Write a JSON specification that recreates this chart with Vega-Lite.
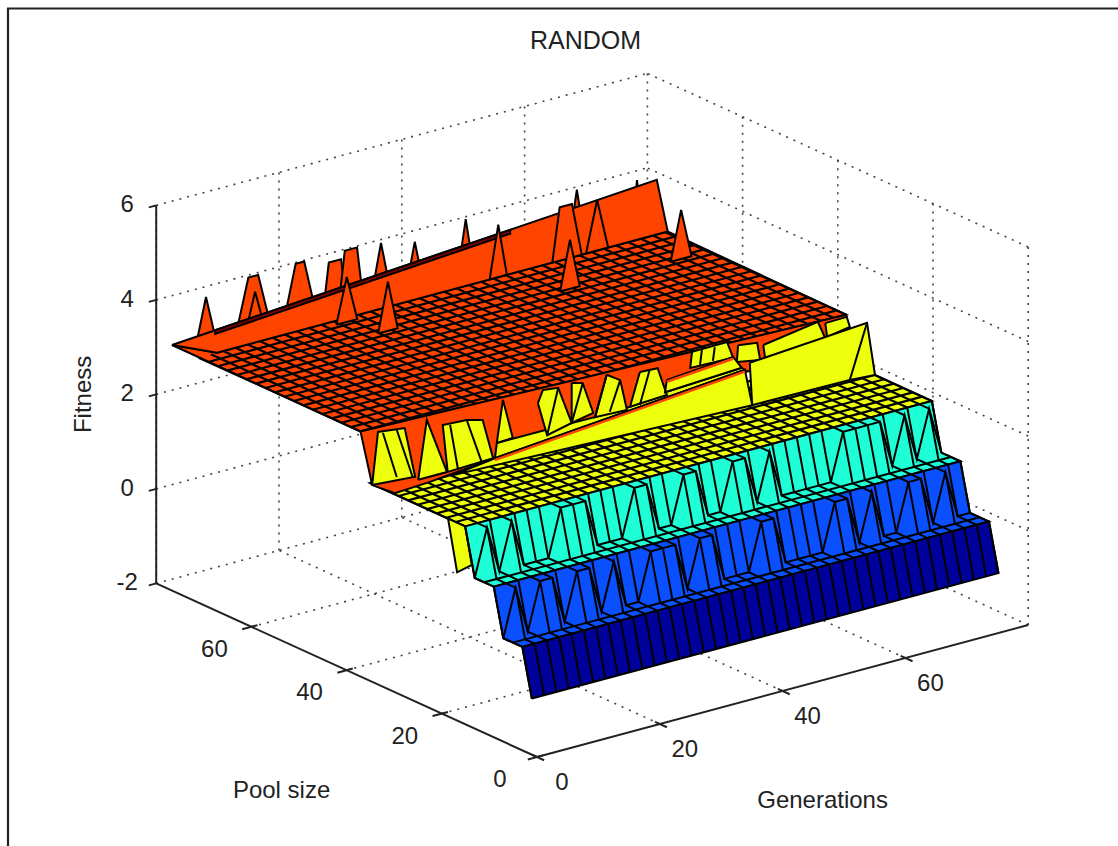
{"$schema":"https://vega.github.io/schema/vega-lite/v6.json","width":1111,"height":838,"padding":{"left":7,"top":8,"right":0,"bottom":0},"autosize":"none","background":"white","config":{"view":{"stroke":null},"text":{"font":"Liberation Sans","fontSize":24,"fill":"#222"}},"title":{"text":"RANDOM","font":"Liberation Sans","fontSize":25,"fontWeight":"normal","color":"#222","dx":23,"offset":-47},
"datasets":{
"frame":[{"sx":8,"sy":8,"ex":8,"ey":846},{"sx":7,"sy":8.5,"ex":1118,"ey":8.5}],
"risers":[{"r":"d","pb":1.6,"pm":2.6,"pt":3.6,"pn":5.6,"zb":-0.85,"zt":0.15},{"r":"b","pb":5.6,"pm":7.6,"pt":9.6,"pn":11.6,"zb":0.15,"zt":1.15},{"r":"c","pb":11.6,"pm":13.6,"pt":15.6,"pn":35.6,"zb":1.15,"zt":2.15}],
"cols":[
{"r":"d","g":0.4,"m":0.5},{"r":"d","g":2.4,"m":0.5},{"r":"d","g":4.4,"m":0.5},{"r":"d","g":6.4,"m":0.5},{"r":"d","g":8.4,"m":0.5},{"r":"d","g":10.4,"m":0.5},{"r":"d","g":12.4,"m":0.5},{"r":"d","g":14.4,"m":0.5},{"r":"d","g":16.4,"m":0.5},{"r":"d","g":18.4,"m":0.5},{"r":"d","g":20.4,"m":0.5},{"r":"d","g":22.4,"m":0.5},{"r":"d","g":24.4,"m":0.5},{"r":"d","g":26.4,"m":0.5},{"r":"d","g":28.4,"m":0.5},{"r":"d","g":30.4,"m":0.5},{"r":"d","g":32.4,"m":0.5},{"r":"d","g":34.4,"m":0.5},{"r":"d","g":36.4,"m":0.5},{"r":"d","g":38.4,"m":0.5},{"r":"d","g":40.4,"m":0.5},{"r":"d","g":42.4,"m":0.5},{"r":"d","g":44.4,"m":0.5},{"r":"d","g":46.4,"m":0.5},{"r":"d","g":48.4,"m":0.5},{"r":"d","g":50.4,"m":0.5},{"r":"d","g":52.4,"m":0.5},{"r":"d","g":54.4,"m":0.5},{"r":"d","g":56.4,"m":0.5},{"r":"d","g":58.4,"m":0.5},{"r":"d","g":60.4,"m":0.5},{"r":"d","g":62.4,"m":0.5},{"r":"d","g":64.4,"m":0.5},{"r":"d","g":66.4,"m":0.5},{"r":"d","g":68.4,"m":0.5},{"r":"d","g":70.4,"m":0.5},{"r":"d","g":72.4,"m":0.5},{"r":"d","g":74.4,"m":0.5},{"r":"d","g":76.4,"m":0.5},
{"r":"b","g":0.4,"m":0},{"r":"b","g":2.4,"m":1},{"r":"b","g":4.4,"m":0},{"r":"b","g":6.4,"m":1},{"r":"b","g":8.4,"m":1},{"r":"b","g":10.4,"m":0},{"r":"b","g":12.4,"m":1},{"r":"b","g":14.4,"m":1},{"r":"b","g":16.4,"m":0},{"r":"b","g":18.4,"m":1},{"r":"b","g":20.4,"m":0},{"r":"b","g":22.4,"m":0},{"r":"b","g":24.4,"m":1},{"r":"b","g":26.4,"m":1},{"r":"b","g":28.4,"m":1},{"r":"b","g":30.4,"m":0},{"r":"b","g":32.4,"m":1},{"r":"b","g":34.4,"m":1},{"r":"b","g":36.4,"m":0},{"r":"b","g":38.4,"m":0},{"r":"b","g":40.4,"m":0},{"r":"b","g":42.4,"m":1},{"r":"b","g":44.4,"m":1},{"r":"b","g":46.4,"m":0},{"r":"b","g":48.4,"m":0},{"r":"b","g":50.4,"m":0},{"r":"b","g":52.4,"m":0},{"r":"b","g":54.4,"m":1},{"r":"b","g":56.4,"m":1},{"r":"b","g":58.4,"m":0},{"r":"b","g":60.4,"m":1},{"r":"b","g":62.4,"m":0},{"r":"b","g":64.4,"m":0},{"r":"b","g":66.4,"m":1},{"r":"b","g":68.4,"m":1},{"r":"b","g":70.4,"m":0},{"r":"b","g":72.4,"m":1},{"r":"b","g":74.4,"m":0},{"r":"b","g":76.4,"m":0},
{"r":"c","g":0.4,"m":0},{"r":"c","g":2.4,"m":1},{"r":"c","g":4.4,"m":0},{"r":"c","g":6.4,"m":1},{"r":"c","g":8.4,"m":0},{"r":"c","g":10.4,"m":0},{"r":"c","g":12.4,"m":0},{"r":"c","g":14.4,"m":1},{"r":"c","g":16.4,"m":1},{"r":"c","g":18.4,"m":1},{"r":"c","g":20.4,"m":0},{"r":"c","g":22.4,"m":0},{"r":"c","g":24.4,"m":0},{"r":"c","g":26.4,"m":1},{"r":"c","g":28.4,"m":1},{"r":"c","g":30.4,"m":0},{"r":"c","g":32.4,"m":0},{"r":"c","g":34.4,"m":1},{"r":"c","g":36.4,"m":1},{"r":"c","g":38.4,"m":0},{"r":"c","g":40.4,"m":0},{"r":"c","g":42.4,"m":1},{"r":"c","g":44.4,"m":1},{"r":"c","g":46.4,"m":0},{"r":"c","g":48.4,"m":1},{"r":"c","g":50.4,"m":0},{"r":"c","g":52.4,"m":0},{"r":"c","g":54.4,"m":0},{"r":"c","g":56.4,"m":0},{"r":"c","g":58.4,"m":0},{"r":"c","g":60.4,"m":1},{"r":"c","g":62.4,"m":1},{"r":"c","g":64.4,"m":1},{"r":"c","g":66.4,"m":1},{"r":"c","g":68.4,"m":0},{"r":"c","g":70.4,"m":1},{"r":"c","g":72.4,"m":0},{"r":"c","g":74.4,"m":1},{"r":"c","g":76.4,"m":0}],
"redcols":[{"g":0.4,"f":37.6},{"g":2.4,"f":37.5},{"g":4.4,"f":37.4},{"g":6.4,"f":37.3},{"g":8.4,"f":37.2},{"g":10.4,"f":37.1},{"g":12.4,"f":37},{"g":14.4,"f":36.9},{"g":16.4,"f":36.8},{"g":18.4,"f":36.7},{"g":20.4,"f":36.5},{"g":22.4,"f":36.4},{"g":24.4,"f":36.3},{"g":26.4,"f":36.2},{"g":28.4,"f":36.1},{"g":30.4,"f":36},{"g":32.4,"f":35.9},{"g":34.4,"f":35.8},{"g":36.4,"f":35.7},{"g":38.4,"f":35.6},{"g":40.4,"f":35.5},{"g":42.4,"f":35.4},{"g":44.4,"f":35.3},{"g":46.4,"f":35.2},{"g":48.4,"f":35.1},{"g":50.4,"f":35},{"g":52.4,"f":34.9},{"g":54.4,"f":34.8},{"g":56.4,"f":34.7},{"g":58.4,"f":34.5},{"g":60.4,"f":34.4},{"g":62.4,"f":34.3},{"g":64.4,"f":34.2},{"g":66.4,"f":34.1},{"g":68.4,"f":34},{"g":70.4,"f":33.9},{"g":72.4,"f":33.8},{"g":74.4,"f":33.7},{"g":76.4,"f":33.6}],
"seg":[
{"l":"dot","g":0,"p":80,"z":-2,"h":0,"q":80,"y":6},{"l":"dot","g":20,"p":80,"z":-2,"h":20,"q":80,"y":6},{"l":"dot","g":40,"p":80,"z":-2,"h":40,"q":80,"y":6},{"l":"dot","g":60,"p":80,"z":-2,"h":60,"q":80,"y":6},{"l":"dot","g":80,"p":80,"z":-2,"h":80,"q":80,"y":6},
{"l":"dot","g":0,"p":80,"z":-2,"h":80,"q":80,"y":-2},{"l":"dot","g":0,"p":80,"z":0,"h":80,"q":80,"y":0},{"l":"dot","g":0,"p":80,"z":2,"h":80,"q":80,"y":2},{"l":"dot","g":0,"p":80,"z":4,"h":80,"q":80,"y":4},{"l":"dot","g":0,"p":80,"z":6,"h":80,"q":80,"y":6},
{"l":"dot","g":80,"p":0,"z":-2,"h":80,"q":0,"y":6},{"l":"dot","g":80,"p":20,"z":-2,"h":80,"q":20,"y":6},{"l":"dot","g":80,"p":40,"z":-2,"h":80,"q":40,"y":6},{"l":"dot","g":80,"p":60,"z":-2,"h":80,"q":60,"y":6},
{"l":"dot","g":80,"p":0,"z":-2,"h":80,"q":80,"y":-2},{"l":"dot","g":80,"p":0,"z":0,"h":80,"q":80,"y":0},{"l":"dot","g":80,"p":0,"z":2,"h":80,"q":80,"y":2},{"l":"dot","g":80,"p":0,"z":4,"h":80,"q":80,"y":4},{"l":"dot","g":80,"p":0,"z":6,"h":80,"q":80,"y":6},
{"l":"dot","g":20,"p":0,"z":-2,"h":20,"q":80,"y":-2},{"l":"dot","g":40,"p":0,"z":-2,"h":40,"q":80,"y":-2},{"l":"dot","g":60,"p":0,"z":-2,"h":60,"q":80,"y":-2},{"l":"dot","g":0,"p":20,"z":-2,"h":80,"q":20,"y":-2},{"l":"dot","g":0,"p":40,"z":-2,"h":80,"q":40,"y":-2},{"l":"dot","g":0,"p":60,"z":-2,"h":80,"q":60,"y":-2},
{"l":"ax","g":0,"p":0,"z":-2,"h":80,"q":0,"y":-2},{"l":"ax","g":0,"p":0,"z":-2,"h":0,"q":80,"y":-2},{"l":"ax","g":0,"p":80,"z":-2,"h":0,"q":80,"y":6},
{"l":"ax","g":0,"p":-1.5,"z":-2,"h":0,"q":1,"y":-2},{"l":"ax","g":20,"p":-1.5,"z":-2,"h":20,"q":1,"y":-2},{"l":"ax","g":40,"p":-1.5,"z":-2,"h":40,"q":1,"y":-2},{"l":"ax","g":60,"p":-1.5,"z":-2,"h":60,"q":1,"y":-2},
{"l":"ax","g":-1.5,"p":0,"z":-2,"h":1,"q":0,"y":-2},{"l":"ax","g":-1.5,"p":20,"z":-2,"h":1,"q":20,"y":-2},{"l":"ax","g":-1.5,"p":40,"z":-2,"h":1,"q":40,"y":-2},{"l":"ax","g":-1.5,"p":60,"z":-2,"h":1,"q":60,"y":-2},
{"l":"ax","g":-1.2,"p":80,"z":-2,"h":0,"q":80,"y":-2},{"l":"ax","g":-1.2,"p":80,"z":0,"h":0,"q":80,"y":0},{"l":"ax","g":-1.2,"p":80,"z":2,"h":0,"q":80,"y":2},{"l":"ax","g":-1.2,"p":80,"z":4,"h":0,"q":80,"y":4},{"l":"ax","g":-1.2,"p":80,"z":6,"h":0,"q":80,"y":6},
{"l":"red","g":38,"p":35.6,"z":3.15,"h":76.4,"q":35.6,"y":3.15},{"l":"red","g":0.4,"p":37.6,"z":3.15,"h":76.4,"q":37.6,"y":3.15},{"l":"red","g":0.4,"p":39.6,"z":3.15,"h":76.4,"q":39.6,"y":3.15},{"l":"red","g":0.4,"p":41.6,"z":3.15,"h":76.4,"q":41.6,"y":3.15},{"l":"red","g":0.4,"p":43.6,"z":3.15,"h":76.4,"q":43.6,"y":3.15},{"l":"red","g":0.4,"p":45.6,"z":3.15,"h":76.4,"q":45.6,"y":3.15},{"l":"red","g":0.4,"p":47.6,"z":3.15,"h":76.4,"q":47.6,"y":3.15},{"l":"red","g":0.4,"p":49.6,"z":3.15,"h":76.4,"q":49.6,"y":3.15},{"l":"red","g":0.4,"p":51.6,"z":3.15,"h":76.4,"q":51.6,"y":3.15},{"l":"red","g":0.4,"p":53.6,"z":3.15,"h":76.4,"q":53.6,"y":3.15},{"l":"red","g":0.4,"p":55.6,"z":3.15,"h":76.4,"q":55.6,"y":3.15},{"l":"red","g":0.4,"p":57.6,"z":3.15,"h":76.4,"q":57.6,"y":3.15},{"l":"red","g":0.4,"p":59.6,"z":3.15,"h":76.4,"q":59.6,"y":3.15},{"l":"red","g":0.4,"p":61.6,"z":3.15,"h":76.4,"q":61.6,"y":3.15},{"l":"red","g":0.4,"p":63.6,"z":3.15,"h":76.4,"q":63.6,"y":3.15},{"l":"red","g":0.4,"p":65.6,"z":3.15,"h":76.4,"q":65.6,"y":3.15},{"l":"red","g":0.4,"p":67.6,"z":3.15,"h":76.4,"q":67.6,"y":3.15},{"l":"red","g":0.4,"p":69.6,"z":3.15,"h":76.4,"q":69.6,"y":3.15},
{"l":"yel","g":0.4,"p":17.6,"z":2.15,"h":76.4,"q":17.6,"y":2.15},{"l":"yel","g":0.4,"p":19.6,"z":2.15,"h":76.4,"q":19.6,"y":2.15},{"l":"yel","g":0.4,"p":21.6,"z":2.15,"h":76.4,"q":21.6,"y":2.15},{"l":"yel","g":0.4,"p":23.6,"z":2.15,"h":76.4,"q":23.6,"y":2.15},{"l":"yel","g":0.4,"p":25.6,"z":2.15,"h":76.4,"q":25.6,"y":2.15},{"l":"yel","g":0.4,"p":27.6,"z":2.15,"h":76.4,"q":27.6,"y":2.15},{"l":"yel","g":0.4,"p":29.6,"z":2.15,"h":76.4,"q":29.6,"y":2.15},{"l":"yel","g":0.4,"p":31.6,"z":2.15,"h":76.4,"q":31.6,"y":2.15},{"l":"yel","g":0.4,"p":33.6,"z":2.15,"h":76.4,"q":33.6,"y":2.15},
{"l":"stp","g":0.4,"p":5.6,"z":0.15,"h":76.4,"q":5.6,"y":0.15},{"l":"stp","g":0.4,"p":11.6,"z":1.15,"h":76.4,"q":11.6,"y":1.15},
{"l":"in","g":0.96,"p":33.6,"z":3.28,"h":3.2,"q":33.6,"y":2.27},{"l":"in","g":3.2,"p":33.6,"z":3.27,"h":5.8,"q":33.6,"y":2.18},{"l":"in","g":11.9,"p":33.6,"z":3.07,"h":13.2,"q":33.6,"y":2.07},{"l":"in","g":14.6,"p":33.6,"z":3.08,"h":17.1,"q":33.6,"y":2.08},{"l":"in","g":29.5,"p":33.6,"z":3.24,"h":27.7,"q":33.6,"y":2.3},{"l":"in","g":33.5,"p":33.6,"z":3.2,"h":31.7,"q":33.6,"y":2.42},{"l":"in","g":37.4,"p":33.6,"z":3.24,"h":35.5,"q":33.6,"y":2.41},{"l":"in","g":39.6,"p":33.6,"z":3.05,"h":37.9,"q":33.6,"y":2.44},{"l":"in","g":44.4,"p":33.6,"z":3.1,"h":42.8,"q":33.6,"y":2.41},{"l":"in","g":52.9,"p":33.6,"z":3.22,"h":52.6,"q":33.6,"y":2.92},{"l":"in","g":55,"p":33.6,"z":3.21,"h":54.7,"q":33.6,"y":2.93},{"l":"in","g":79.8,"p":33.6,"z":2.86,"h":77,"q":33.6,"y":1.75},
{"l":"acc","g":19.2,"p":33.6,"z":2.07,"h":59.9,"q":33.6,"y":2.52},{"l":"acc","g":47.2,"p":33.6,"z":2.75,"h":58,"q":33.6,"y":2.86}],
"polys":[
{"l":1,"id":"a01","c":"r","g":[3.1,4.7,6.3,3.1],"p":[75.6,75.6,75.6,75.6],"z":[3.15,4.1,3.15,3.15]},
{"l":1,"id":"a02","c":"r","g":[9.6,11.6,13.2,15.2,9.6],"p":[75.6,75.6,75.6,75.6,75.6],"z":[3.15,4.27,4.27,3.15,3.15]},
{"l":1,"id":"a03","c":"r","g":[11.2,12.7,14.2,11.2],"p":[75.6,75.6,75.6,75.6],"z":[3.15,3.93,3.15,3.15]},
{"l":1,"id":"a04","c":"r","g":[17.4,19.3,20.7,22.6,17.4],"p":[75.6,75.6,75.6,75.6,75.6],"z":[3.15,4.29,4.29,3.15,3.15]},
{"l":1,"id":"a05","c":"r","g":[23.8,24.7,26.7,27.6,23.8],"p":[75.6,75.6,75.6,75.6,75.6],"z":[3.15,4.13,4.13,3.15,3.15]},
{"l":1,"id":"a06","c":"r","g":[26.3,27.3,29.3,30.3,26.3],"p":[75.6,75.6,75.6,75.6,75.6],"z":[3.15,4.29,4.29,3.15,3.15]},
{"l":1,"id":"a07","c":"r","g":[31.6,33.2,34.8,31.6],"p":[75.6,75.6,75.6,75.6],"z":[3.15,4.25,3.15,3.15]},
{"l":1,"id":"a08","c":"r","g":[37.3,38.7,40.1,37.3],"p":[75.6,75.6,75.6,75.6],"z":[3.15,4.08,3.15,3.15]},
{"l":1,"id":"a09","c":"r","g":[45.7,47,48.3,45.7],"p":[75.6,75.6,75.6,75.6],"z":[3.15,4.27,3.15,3.15]},
{"l":1,"id":"a10","c":"r","g":[63.8,65.1,66.4,63.8],"p":[75.6,75.6,75.6,75.6],"z":[3.15,4.26,3.15,3.15]},
{"l":1,"id":"a11","c":"r","g":[74.1,74.9,75.7,74.1],"p":[75.6,75.6,75.6,75.6],"z":[3.15,4.12,3.15,3.15]},
{"l":1,"id":"a12","c":"r","g":[0.4,0.4,3.4,76.8,76.4,0.4],"p":[37.6,77.2,71.6,71.6,33.6,37.6],"z":[3.15,3.16,3.15,3.15,3.15,3.15]},
{"l":1,"id":"a13","c":"r","g":[0.4,76.8,76.8,3.4,0.4],"p":[77.2,73.9,71.6,71.6,77.2],"z":[3.16,4.14,3.15,3.15,3.16]},
{"l":1,"id":"a14","c":"k","g":[7.2,53.7,53.7,7.2,7.2],"p":[76.9,74.9,74.9,76.9,76.9],"z":[3.25,3.84,3.76,3.17,3.25]},
{"l":1,"id":"a15","c":"r","g":[47.8,49.2,50.6,47.8],"p":[71.6,71.6,71.6,71.6],"z":[3.15,4.26,3.15,3.15]},
{"l":1,"id":"a16","c":"r","g":[58,59.2,61.2,62.8,58],"p":[71.6,71.6,71.6,71.6,71.6],"z":[3.15,4.28,4.28,3.15,3.15]},
{"l":1,"id":"a17","c":"r","g":[63.5,65.3,67.1,63.5],"p":[71.6,71.6,71.6,71.6],"z":[3.15,4.22,3.15,3.15]},
{"l":2,"id":"b01","c":"r","g":[21.9,23.6,25.3,21.9],"p":[70.4,70.4,70.4,70.4],"z":[3.15,4.1,3.15,3.15]},
{"l":2,"id":"b02","c":"r","g":[24.2,25.8,27.4,24.2],"p":[64.6,64.6,64.6,64.6],"z":[3.15,4.19,3.15,3.15]},
{"l":2,"id":"b03","c":"r","g":[52.3,53.9,55.5,52.3],"p":[62.6,62.6,62.6,62.6],"z":[3.15,4.19,3.15,3.15]},
{"l":2,"id":"b04","c":"r","g":[70.3,72,73.7,70.3],"p":[62.6,62.6,62.6,62.6],"z":[3.15,4.19,3.15,3.15]},
{"l":2,"id":"b05","c":"y","g":[0.4,0.4,76.4,76.4,0.4],"p":[15.6,35.6,35.6,15.6,15.6],"z":[2.15,2.15,2.15,2.15,2.15]},
{"l":3,"id":"c00","c":"r","g":[0.4,76.4,77,59.4,46.9,19.2,8.6,2.9,-0.8,0.4],"p":[37.6,33.6,33.6,33.6,33.6,33.6,33.6,33.6,33.6,37.6],"z":[3.15,3.15,2.7,2.5,2.42,2.11,1.98,1.94,2.24,3.15]},
{"l":3,"id":"c01","c":"y","g":[19.2,19.5,31.7,35.5,41.2,46.9,59.4,59.9,19.2],"p":[33.6,33.6,33.6,33.6,33.6,33.6,33.6,33.6,33.6],"z":[2.11,2.42,2.42,2.41,2.43,2.54,2.62,2.56,2.11]},
{"l":3,"id":"c02","c":"y","g":[-0.8,0.15,4.5,6.2,-0.8],"p":[33.6,33.6,33.6,33.6,33.6],"z":[2.24,3.33,3.26,2.17,2.24]},
{"l":3,"id":"c03","c":"y","g":[6.7,8.1,11.4,6.7],"p":[33.6,33.6,33.6,33.6],"z":[2.09,3.31,2.09,2.09]},
{"l":3,"id":"c04","c":"y","g":[11.5,10.7,14.6,17.2,18.9,11.5],"p":[33.6,33.6,33.6,33.6,33.6,33.6],"z":[2.09,3.11,3.08,2.99,2.12,2.09]},
{"l":3,"id":"c05","c":"y","g":[19.5,20.5,22.1,19.5],"p":[33.6,33.6,33.6,33.6],"z":[2.42,3.3,2.44,2.42]},
{"l":3,"id":"c06","c":"y","g":[26.2,27,29.5,31.7,27.7,26.2],"p":[33.6,33.6,33.6,33.6,33.6,33.6],"z":[3.03,3.28,3.24,2.42,2.3,3.03]},
{"l":3,"id":"c07","c":"y","g":[31.7,33.5,35.2,31.7,31.7],"p":[33.6,33.6,33.6,33.6,33.6],"z":[3.27,3.2,2.51,2.42,3.27]},
{"l":3,"id":"c08","c":"y","g":[37.4,39.6,40.7,35.5,37.4],"p":[33.6,33.6,33.6,33.6,33.6],"z":[3.24,3.05,2.38,2.41,3.24]},
{"l":3,"id":"c09","c":"y","g":[42.8,45.7,47.2,41.2,42.8],"p":[33.6,33.6,33.6,33.6,33.6],"z":[3.11,3.09,2.47,2.43,3.11]},
{"l":3,"id":"c10","c":"y","g":[51.3,57,58,51,51.3],"p":[33.6,33.6,33.6,33.6,33.6],"z":[3.24,3.25,2.88,2.91,3.24]},
{"l":3,"id":"c11","c":"y","g":[58.8,61.9,62.4,58.6,58.8],"p":[33.6,33.6,33.6,33.6,33.6],"z":[3.12,3.06,2.68,2.77,3.12]},
{"l":3,"id":"c12","c":"y","g":[62.9,71.8,73,63.2,62.9],"p":[33.6,33.6,33.6,33.6,33.6],"z":[2.98,3.16,2.77,2.69,2.98]},
{"l":3,"id":"c13","c":"y","g":[73,76.5,77,73.3,73],"p":[33.6,33.6,33.6,33.6,33.6],"z":[3.09,3.1,2.87,2.79,3.09]},
{"l":3,"id":"c14","c":"y","g":[47.2,58,59.4,46.9,47.2],"p":[33.6,33.6,33.6,33.6,33.6],"z":[2.79,2.9,2.62,2.54,2.79]},
{"l":3,"id":"c15","c":"y","g":[19.2,59.9,61.1,12.4,19.2],"p":[33.6,33.6,33.6,33.6,33.6],"z":[2.11,2.56,1.77,1.99,2.11]},
{"l":3,"id":"c16","c":"y","g":[60.7,79.8,81.1,77,61.1,60.7],"p":[33.6,33.6,33.6,33.6,33.6,33.6],"z":[2.68,2.86,1.71,1.75,1.77,2.68]},
{"l":3,"id":"c17","c":"y","g":[0.4,0.4,0.4,0.4,0.4],"p":[19.2,15.6,14.2,17.3,19.2],"z":[2.15,2.15,1.4,1.1,2.15]},
{"l":3,"id":"c18","c":"c","g":[0.4,0.4,0.4,76.4,76.4,76.4,0.4],"p":[9.6,13.6,15.6,15.6,13.6,9.6,9.6],"z":[1.15,1.15,2.15,2.15,1.15,1.15,1.15]},
{"l":3,"id":"c19","c":"b","g":[0.4,0.4,0.4,76.4,76.4,76.4,0.4],"p":[3.6,7.6,9.6,9.6,7.6,3.6,3.6],"z":[0.15,0.15,1.15,1.15,0.15,0.15,0.15]},
{"l":3,"id":"c20","c":"d","g":[0.4,0.4,76.4,76.4,0.4],"p":[1.6,3.6,3.6,1.6,1.6],"z":[-0.85,0.15,0.15,-0.85,-0.85]}],
"labels":[{"a":"g","t":"0","g":0,"p":0,"z":-2},{"a":"g","t":"20","g":20,"p":0,"z":-2},{"a":"g","t":"40","g":40,"p":0,"z":-2},{"a":"g","t":"60","g":60,"p":0,"z":-2},{"a":"p","t":"0","g":0,"p":0,"z":-2},{"a":"p","t":"20","g":0,"p":20,"z":-2},{"a":"p","t":"40","g":0,"p":40,"z":-2},{"a":"p","t":"60","g":0,"p":60,"z":-2},{"a":"z","t":"-2","g":0,"p":80,"z":-2},{"a":"z","t":"0","g":0,"p":80,"z":0},{"a":"z","t":"2","g":0,"p":80,"z":2},{"a":"z","t":"4","g":0,"p":80,"z":4},{"a":"z","t":"6","g":0,"p":80,"z":6},{"a":"G","t":"Generations","g":40,"p":0,"z":-2},{"a":"P","t":"Pool size","g":0,"p":40,"z":-2},{"a":"F","t":"Fitness","g":0,"p":80,"z":2}]},
"encoding":{"x":{"field":"sx","type":"quantitative","scale":{"domain":[7,1118]},"axis":null},"y":{"field":"sy","type":"quantitative","scale":{"domain":[846,8]},"axis":null}},
"layer":[
{"data":{"name":"frame"},"mark":{"type":"rule","stroke":"#222","strokeWidth":2.2},"encoding":{"x2":{"field":"ex"},"y2":{"field":"ey"}}},
{"data":{"name":"seg"},"transform":[{"filter":"datum.l=='dot'"},{"calculate":"537+6.14*datum.g-4.76*datum.p","as":"sx"},{"calculate":"757-1.65*datum.g-2.17*datum.p-47.25*(datum.z+2)","as":"sy"},{"calculate":"537+6.14*datum.h-4.76*datum.q","as":"ex"},{"calculate":"757-1.65*datum.h-2.17*datum.q-47.25*(datum.y+2)","as":"ey"}],"mark":{"type":"rule","stroke":"#444","strokeWidth":1.6,"strokeDash":[2,6]},"encoding":{"x2":{"field":"ex"},"y2":{"field":"ey"}}},
{"data":{"name":"seg"},"transform":[{"filter":"datum.l=='ax'"},{"calculate":"537+6.14*datum.g-4.76*datum.p","as":"sx"},{"calculate":"757-1.65*datum.g-2.17*datum.p-47.25*(datum.z+2)","as":"sy"},{"calculate":"537+6.14*datum.h-4.76*datum.q","as":"ex"},{"calculate":"757-1.65*datum.h-2.17*datum.q-47.25*(datum.y+2)","as":"ey"}],"mark":{"type":"rule","stroke":"#222","strokeWidth":2},"encoding":{"x2":{"field":"ex"},"y2":{"field":"ey"}}},
{"data":{"name":"polys"},"transform":[{"filter":"datum.l==1"},{"flatten":["g","p","z"]},{"calculate":"537+6.14*datum.g-4.76*datum.p","as":"sx"},{"calculate":"757-1.65*datum.g-2.17*datum.p-47.25*(datum.z+2)","as":"sy"}],"mark":{"type":"line","filled":true,"stroke":"black","strokeWidth":2},"encoding":{"fill":{"field":"c","type":"nominal","scale":{"domain":["r","y","c","b","d","k"],"range":["#ff4400","#eeff0c","#1effd8","#0a50ff","#00009a","#800000"]},"legend":null},"detail":{"field":"id"},"order":{"value":null}}},
{"data":{"name":"seg"},"transform":[{"filter":"datum.l=='red'"},{"calculate":"537+6.14*datum.g-4.76*datum.p","as":"sx"},{"calculate":"757-1.65*datum.g-2.17*datum.p-47.25*(datum.z+2)","as":"sy"},{"calculate":"537+6.14*datum.h-4.76*datum.q","as":"ex"},{"calculate":"757-1.65*datum.h-2.17*datum.q-47.25*(datum.y+2)","as":"ey"}],"mark":{"type":"rule","stroke":"black","strokeWidth":2.2},"encoding":{"x2":{"field":"ex"},"y2":{"field":"ey"}}},
{"data":{"name":"redcols"},"transform":[{"calculate":"537+6.14*datum.g-4.76*datum.f","as":"sx"},{"calculate":"757-1.65*datum.g-2.17*datum.f-47.25*5.15","as":"sy"},{"calculate":"537+6.14*datum.g-4.76*71.6","as":"ex"},{"calculate":"757-1.65*datum.g-2.17*71.6-47.25*5.15","as":"ey"}],"mark":{"type":"rule","stroke":"black","strokeWidth":2.2},"encoding":{"x2":{"field":"ex"},"y2":{"field":"ey"}}},
{"data":{"name":"polys"},"transform":[{"filter":"datum.l==2"},{"flatten":["g","p","z"]},{"calculate":"537+6.14*datum.g-4.76*datum.p","as":"sx"},{"calculate":"757-1.65*datum.g-2.17*datum.p-47.25*(datum.z+2)","as":"sy"}],"mark":{"type":"line","filled":true,"stroke":"black","strokeWidth":2},"encoding":{"fill":{"field":"c","type":"nominal","legend":null},"detail":{"field":"id"},"order":{"value":null}}},
{"data":{"name":"seg"},"transform":[{"filter":"datum.l=='yel'"},{"calculate":"537+6.14*datum.g-4.76*datum.p","as":"sx"},{"calculate":"757-1.65*datum.g-2.17*datum.p-47.25*(datum.z+2)","as":"sy"},{"calculate":"537+6.14*datum.h-4.76*datum.q","as":"ex"},{"calculate":"757-1.65*datum.h-2.17*datum.q-47.25*(datum.y+2)","as":"ey"}],"mark":{"type":"rule","stroke":"black","strokeWidth":2.2},"encoding":{"x2":{"field":"ex"},"y2":{"field":"ey"}}},
{"data":{"name":"cols"},"transform":[{"filter":"datum.r=='c'"},{"lookup":"r","from":{"data":{"name":"risers"},"key":"r","fields":["pt","pn","zt"]}},{"calculate":"537+6.14*datum.g-4.76*datum.pt","as":"sx"},{"calculate":"757-1.65*datum.g-2.17*datum.pt-47.25*(datum.zt+2)","as":"sy"},{"calculate":"537+6.14*datum.g-4.76*datum.pn","as":"ex"},{"calculate":"757-1.65*datum.g-2.17*datum.pn-47.25*(datum.zt+2)","as":"ey"}],"mark":{"type":"rule","stroke":"black","strokeWidth":2.2},"encoding":{"x2":{"field":"ex"},"y2":{"field":"ey"}}},
{"data":{"name":"polys"},"transform":[{"filter":"datum.l==3"},{"flatten":["g","p","z"]},{"calculate":"537+6.14*datum.g-4.76*datum.p","as":"sx"},{"calculate":"757-1.65*datum.g-2.17*datum.p-47.25*(datum.z+2)","as":"sy"}],"mark":{"type":"line","filled":true,"stroke":"black","strokeWidth":2},"encoding":{"fill":{"field":"c","type":"nominal","legend":null},"detail":{"field":"id"},"order":{"value":null}}},
{"data":{"name":"seg"},"transform":[{"filter":"datum.l=='in'||datum.l=='stp'"},{"calculate":"537+6.14*datum.g-4.76*datum.p","as":"sx"},{"calculate":"757-1.65*datum.g-2.17*datum.p-47.25*(datum.z+2)","as":"sy"},{"calculate":"537+6.14*datum.h-4.76*datum.q","as":"ex"},{"calculate":"757-1.65*datum.h-2.17*datum.q-47.25*(datum.y+2)","as":"ey"}],"mark":{"type":"rule","stroke":"black","strokeWidth":2},"encoding":{"x2":{"field":"ex"},"y2":{"field":"ey"}}},
{"data":{"name":"seg"},"transform":[{"filter":"datum.l=='acc'"},{"calculate":"537+6.14*datum.g-4.76*datum.p","as":"sx"},{"calculate":"757-1.65*datum.g-2.17*datum.p-47.25*(datum.z+2)","as":"sy"},{"calculate":"537+6.14*datum.h-4.76*datum.q","as":"ex"},{"calculate":"757-1.65*datum.h-2.17*datum.q-47.25*(datum.y+2)","as":"ey"}],"mark":{"type":"rule","stroke":"#ff4400","strokeWidth":2.5},"encoding":{"x2":{"field":"ex"},"y2":{"field":"ey"}}},
{"data":{"name":"cols"},"transform":[{"lookup":"r","from":{"data":{"name":"risers"},"key":"r","fields":["pb","pm","pt","pn","zb","zt"]}},{"calculate":"datum.zb+datum.m*(datum.zt-datum.zb)","as":"zm"},{"calculate":"537+6.14*datum.g-4.76*datum.pb","as":"sx"},{"calculate":"757-1.65*datum.g-2.17*datum.pb-47.25*(datum.zb+2)","as":"sy"},{"calculate":"537+6.14*datum.g-4.76*datum.pm","as":"ex"},{"calculate":"757-1.65*datum.g-2.17*datum.pm-47.25*(datum.zm+2)","as":"ey"}],"mark":{"type":"rule","stroke":"black","strokeWidth":2},"encoding":{"x2":{"field":"ex"},"y2":{"field":"ey"}}},
{"data":{"name":"cols"},"transform":[{"lookup":"r","from":{"data":{"name":"risers"},"key":"r","fields":["pb","pm","pt","pn","zb","zt"]}},{"calculate":"datum.zb+datum.m*(datum.zt-datum.zb)","as":"zm"},{"calculate":"537+6.14*datum.g-4.76*datum.pm","as":"sx"},{"calculate":"757-1.65*datum.g-2.17*datum.pm-47.25*(datum.zm+2)","as":"sy"},{"calculate":"537+6.14*datum.g-4.76*datum.pt","as":"ex"},{"calculate":"757-1.65*datum.g-2.17*datum.pt-47.25*(datum.zt+2)","as":"ey"}],"mark":{"type":"rule","stroke":"black","strokeWidth":2},"encoding":{"x2":{"field":"ex"},"y2":{"field":"ey"}}},
{"data":{"name":"cols"},"transform":[{"filter":"datum.r!='c'"},{"lookup":"r","from":{"data":{"name":"risers"},"key":"r","fields":["pt","pn","zt"]}},{"calculate":"537+6.14*datum.g-4.76*datum.pt","as":"sx"},{"calculate":"757-1.65*datum.g-2.17*datum.pt-47.25*(datum.zt+2)","as":"sy"},{"calculate":"537+6.14*datum.g-4.76*datum.pn","as":"ex"},{"calculate":"757-1.65*datum.g-2.17*datum.pn-47.25*(datum.zt+2)","as":"ey"}],"mark":{"type":"rule","stroke":"black","strokeWidth":2},"encoding":{"x2":{"field":"ex"},"y2":{"field":"ey"}}},
{"data":{"name":"cols"},"transform":[{"filter":"datum.r!='d'"},{"lookup":"r","from":{"data":{"name":"risers"},"key":"r","fields":["pm","zb","zt"]}},{"calculate":"datum.zb+datum.m*(datum.zt-datum.zb)","as":"zm"},{"calculate":"537+6.14*datum.g-4.76*datum.pm","as":"sx"},{"calculate":"757-1.65*datum.g-2.17*datum.pm-47.25*(datum.zm+2)","as":"sy"}],"mark":{"type":"line","stroke":"black","strokeWidth":2},"encoding":{"detail":{"field":"r"},"order":{"value":null}}},
{"data":{"name":"labels"},"transform":[{"filter":"datum.a=='g'"},{"calculate":"537+6.14*datum.g-4.76*datum.p","as":"sx"},{"calculate":"757-1.65*datum.g-2.17*datum.p-47.25*(datum.z+2)","as":"sy"}],"mark":{"type":"text","dx":25,"dy":26},"encoding":{"text":{"field":"t"}}},
{"data":{"name":"labels"},"transform":[{"filter":"datum.a=='p'"},{"calculate":"537+6.14*datum.g-4.76*datum.p","as":"sx"},{"calculate":"757-1.65*datum.g-2.17*datum.p-47.25*(datum.z+2)","as":"sy"}],"mark":{"type":"text","dx":-37,"dy":23},"encoding":{"text":{"field":"t"}}},
{"data":{"name":"labels"},"transform":[{"filter":"datum.a=='z'"},{"calculate":"537+6.14*datum.g-4.76*datum.p","as":"sx"},{"calculate":"757-1.65*datum.g-2.17*datum.p-47.25*(datum.z+2)","as":"sy"}],"mark":{"type":"text","dx":-29,"dy":0},"encoding":{"text":{"field":"t"}}},
{"data":{"name":"labels"},"transform":[{"filter":"datum.a=='G'"},{"calculate":"537+6.14*datum.g-4.76*datum.p","as":"sx"},{"calculate":"757-1.65*datum.g-2.17*datum.p-47.25*(datum.z+2)","as":"sy"}],"mark":{"type":"text","dx":40,"dy":110},"encoding":{"text":{"field":"t"}}},
{"data":{"name":"labels"},"transform":[{"filter":"datum.a=='P'"},{"calculate":"537+6.14*datum.g-4.76*datum.p","as":"sx"},{"calculate":"757-1.65*datum.g-2.17*datum.p-47.25*(datum.z+2)","as":"sy"}],"mark":{"type":"text","dx":-65,"dy":121},"encoding":{"text":{"field":"t"}}},
{"data":{"name":"labels"},"transform":[{"filter":"datum.a=='F'"},{"calculate":"537+6.14*datum.g-4.76*datum.p","as":"sx"},{"calculate":"757-1.65*datum.g-2.17*datum.p-47.25*(datum.z+2)","as":"sy"}],"mark":{"type":"text","angle":270,"dy":-72},"encoding":{"text":{"field":"t"}}}
]}
